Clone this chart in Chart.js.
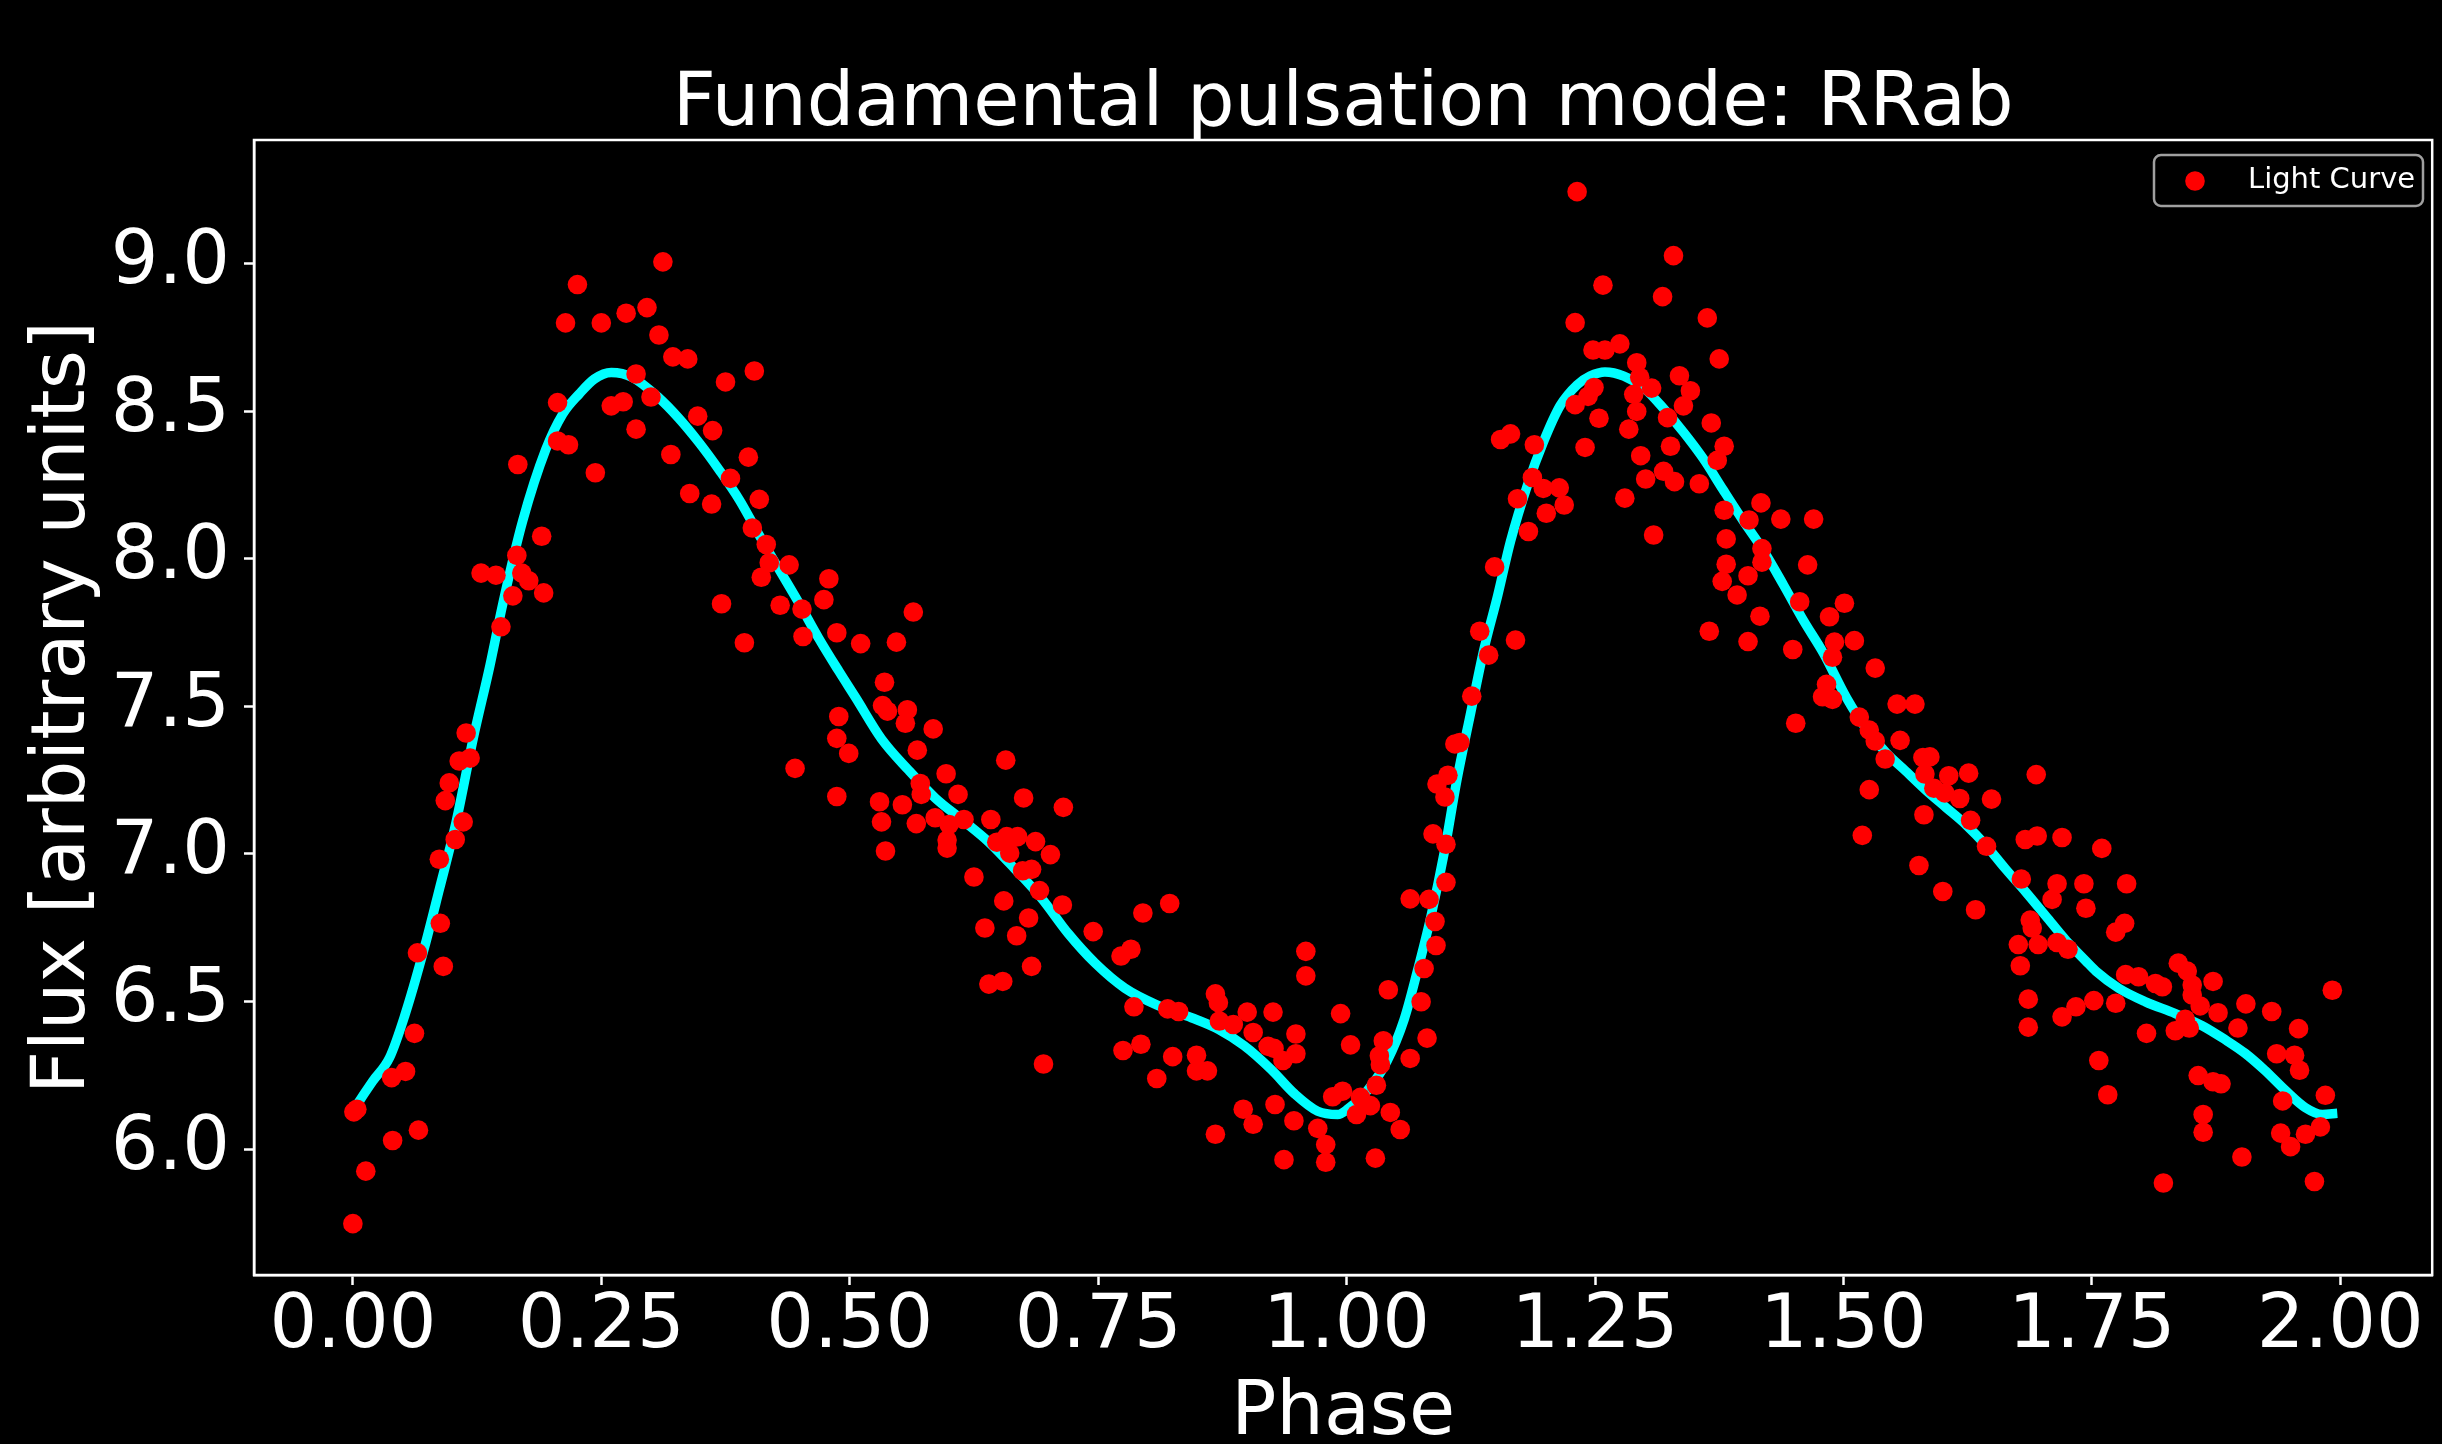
<!DOCTYPE html>
<html>
<head>
<meta charset="utf-8">
<script src="https://cdn.jsdelivr.net/npm/chart.js@4.4.1/dist/chart.umd.min.js"></script>
<style>
  html, body { margin: 0; padding: 0; background: #000; }
  canvas { display: block; }
</style>
</head>
<body>
<canvas id="lightCurve" width="2442" height="1444"></canvas>
<script>
const lcPhase = [
    0.000, 0.001, 0.004, 0.013, 0.039, 0.040, 0.053, 0.062, 0.065, 0.066, 0.087, 0.088, 0.091, 0.093, 0.097, 0.103, 0.107, 0.111, 0.114, 0.118,
    0.129, 0.144, 0.149, 0.161, 0.165, 0.166, 0.170, 0.177, 0.190, 0.192, 0.206, 0.206, 0.214, 0.217, 0.226,
    0.244, 0.250, 0.260, 0.272, 0.275, 0.285, 0.285, 0.296, 0.300, 0.308, 0.312, 0.320, 0.322, 0.337, 0.339, 0.347, 0.361, 0.362, 0.371, 0.375,
    0.380, 0.394, 0.398, 0.402, 0.404, 0.409, 0.411, 0.416, 0.419, 0.430, 0.439, 0.445, 0.452, 0.453, 0.474, 0.479, 0.487, 0.489, 0.487, 0.487,
    0.564, 0.511, 0.547, 0.535, 0.499, 0.533, 0.538, 0.558, 0.556, 0.584, 0.568, 0.597, 0.571, 0.572, 0.609, 0.530, 0.553, 0.532, 0.567, 0.586,
    0.600, 0.615, 0.536, 0.598, 0.598, 0.642, 0.657, 0.675, 0.715, 0.648, 0.658, 0.669, 0.661, 0.687, 0.702, 0.625, 0.674, 0.683, 0.691, 0.714,
    0.655, 0.680, 0.668, 0.636, 0.683, 0.640, 0.654, 0.695, 0.745,
    0.795, 0.822, 0.773, 0.783, 0.786, 0.820, 0.831, 0.775, 0.793, 0.825, 0.809, 0.849, 0.849, 0.860, 0.868, 0.871, 0.872, 0.886, 0.900, 0.906,
    0.926, 0.921, 0.927, 0.936, 0.949, 0.949, 0.959, 0.959, 0.896, 0.906, 0.868, 0.928, 0.947, 0.937, 0.971, 0.979, 0.979, 0.986, 0.994,
    0.996, 1.004, 1.042, 1.037, 1.033, 1.034, 1.030, 1.014, 1.024, 1.010, 1.044, 1.054, 1.029, 1.064, 1.075, 1.081, 1.078, 1.064, 1.083, 1.089,
    1.090, 1.100, 1.087, 1.100, 1.091, 1.099, 1.102, 1.109, 1.114, 1.126, 1.134, 1.143, 1.170, 1.149, 1.155, 1.165, 1.189, 1.172, 1.187, 1.198,
    1.214, 1.201, 1.219, 1.183, 1.230, 1.232, 1.230, 1.240,
    1.329, 1.258, 1.318, 1.363, 1.248, 1.260, 1.275, 1.292, 1.295, 1.289, 1.307, 1.335, 1.346, 1.375, 1.339, 1.292, 1.323, 1.367, 1.249, 1.243,
    1.254, 1.284, 1.326, 1.296, 1.380, 1.373, 1.319, 1.301, 1.330, 1.355, 1.280, 1.309, 1.380, 1.417, 1.405, 1.437, 1.470, 1.382, 1.418, 1.418,
    1.382, 1.378, 1.404, 1.464, 1.393, 1.456, 1.416, 1.486, 1.365, 1.404, 1.449, 1.491, 1.489, 1.483, 1.479, 1.489, 1.452,
    1.501, 1.511, 1.532, 1.554, 1.572, 1.516, 1.526, 1.532, 1.557, 1.542, 1.580, 1.587, 1.582, 1.606, 1.626, 1.591, 1.602, 1.617, 1.649, 1.694,
    1.526, 1.581, 1.628, 1.519, 1.644, 1.683, 1.695, 1.720, 1.576, 1.600, 1.633, 1.679, 1.715, 1.710, 1.742, 1.744, 1.688, 1.690, 1.676, 1.696,
    1.715, 1.726, 1.678, 1.686, 1.686, 1.720, 1.734,
    1.760, 1.785, 1.783, 1.774, 1.784, 1.797, 1.814, 1.821, 1.837, 1.846, 1.851, 1.851, 1.872, 1.859, 1.877, 1.905, 1.931, 1.752, 1.774, 1.805,
    1.834, 1.844, 1.848, 1.897, 1.958, 1.992, 1.936, 1.954, 1.959, 1.757, 1.766, 1.857, 1.872, 1.880, 1.862, 1.862, 1.942, 1.985, 1.940, 1.950,
    1.965, 1.980, 1.901, 1.822, 1.974
];
const lcFlux = [
    5.747, 6.126, 6.135, 5.925, 6.242, 6.029, 6.263, 6.392, 6.665, 6.064, 6.982, 6.765, 6.619, 7.181, 7.241, 7.049, 7.315, 7.109, 7.410, 7.325,
    7.952, 7.945, 7.770, 7.875, 8.012, 8.320, 7.952, 7.926, 8.077, 7.885, 8.530, 8.400, 8.800, 8.387, 8.930,
    8.292, 8.800, 8.519, 8.533, 8.833, 8.627, 8.440, 8.852, 8.549, 8.759, 9.007, 8.354, 8.685, 8.678, 8.222, 8.484, 8.186, 8.435, 7.848, 8.600,
    8.273, 7.716, 8.345, 8.105, 8.637, 8.202, 7.938, 8.049, 7.987, 7.843, 7.980, 7.290, 7.830, 7.737, 7.862, 7.933, 7.750, 7.466, 7.392, 7.195,
    7.820, 7.713, 7.718, 7.582, 7.341, 7.503, 7.484, 7.489, 7.443, 7.424, 7.352, 7.272, 7.239, 7.202, 7.202, 7.177, 7.167, 7.109, 7.103, 7.123,
    7.100, 7.117, 7.010, 7.047, 7.020, 7.117, 7.318, 7.190, 7.158, 7.040, 7.059, 7.059, 7.003, 7.042, 6.998, 6.922, 6.943, 6.948, 6.876, 6.827,
    6.841, 6.783, 6.723, 6.749, 6.619, 6.559, 6.568, 6.288, 6.737,
    6.800, 6.832, 6.654, 6.677, 6.482, 6.475, 6.466, 6.334, 6.355, 6.313, 6.239, 6.318, 6.265, 6.265, 6.526, 6.496, 6.434, 6.422, 6.464, 6.395,
    6.464, 6.348, 6.341, 6.300, 6.390, 6.323, 6.670, 6.587, 6.135, 6.084, 6.050, 6.151, 6.096, 5.964, 6.070, 6.015, 5.955, 6.177, 6.459,
    6.196, 6.353, 6.540, 6.367, 6.316, 6.286, 6.216, 6.175, 6.147, 6.117, 6.124, 6.066, 5.969, 6.307, 6.499, 6.376, 6.612, 6.848, 6.846, 6.771,
    6.690, 6.904, 7.068, 7.033, 7.237, 7.193, 7.267, 7.373, 7.378, 7.535, 7.755, 7.674, 7.725, 7.973, 8.405, 8.424, 8.387, 8.204, 8.276, 8.239,
    8.241, 8.155, 8.183, 8.093, 8.801, 9.245, 8.523, 8.378,
    9.028, 8.928, 8.889, 8.817, 8.708, 8.708, 8.729, 8.665, 8.616, 8.558, 8.579, 8.621, 8.570, 8.678, 8.519, 8.500, 8.479, 8.461, 8.581, 8.551,
    8.477, 8.440, 8.382, 8.350, 8.382, 8.334, 8.297, 8.271, 8.262, 8.255, 8.206, 8.081, 8.165, 8.190, 8.132, 8.135, 8.135, 8.068, 8.035, 7.989,
    7.982, 7.924, 7.943, 7.980, 7.878, 7.855, 7.806, 7.804, 7.755, 7.720, 7.693, 7.718, 7.667, 7.575, 7.533, 7.524, 7.443,
    7.850, 7.723, 7.630, 7.508, 7.508, 7.464, 7.420, 7.383, 7.385, 7.322, 7.327, 7.329, 7.271, 7.265, 7.274, 7.223, 7.207, 7.188, 7.186, 7.269,
    7.218, 7.133, 7.114, 7.063, 7.026, 7.049, 7.061, 7.056, 6.961, 6.873, 6.811, 6.915, 6.899, 6.846, 6.899, 6.816, 6.776, 6.749, 6.693, 6.693,
    6.700, 6.677, 6.621, 6.508, 6.413, 6.448, 6.482,
    7.019, 6.899, 6.765, 6.735, 6.591, 6.584, 6.561, 6.550, 6.630, 6.603, 6.556, 6.522, 6.568, 6.485, 6.462, 6.492, 6.466, 6.503, 6.494, 6.392,
    6.401, 6.440, 6.410, 6.410, 6.408, 6.538, 6.323, 6.318, 6.267, 6.300, 6.184, 6.249, 6.228, 6.221, 6.117, 6.057, 6.163, 6.182, 6.054, 6.008,
    6.050, 6.075, 5.973, 5.885, 5.890
];

// fitted curve
const fitPhase = [
    0.000, 0.020, 0.037, 0.052, 0.071, 0.087, 0.104, 0.121, 0.138, 0.151, 0.171, 0.194, 0.211, 0.228, 0.243, 0.260, 0.281, 0.308, 0.328, 0.348,
    0.369, 0.389, 0.409, 0.428, 0.449, 0.469, 0.489, 0.506, 0.532, 0.559, 0.586, 0.613, 0.640, 0.666, 0.693, 0.720, 0.747, 0.777, 0.810, 0.844,
    0.871, 0.897, 0.924, 0.948, 0.971, 0.991, 1.001, 1.021, 1.041, 1.058, 1.071, 1.085, 1.098, 1.111, 1.125, 1.138, 1.152, 1.165, 1.182, 1.198,
    1.215, 1.232, 1.245, 1.260, 1.279, 1.299, 1.319, 1.339, 1.359, 1.379, 1.399, 1.420, 1.440, 1.460, 1.480, 1.503, 1.523, 1.543, 1.563, 1.583,
    1.603, 1.623, 1.643, 1.663, 1.684, 1.704, 1.724, 1.744, 1.754, 1.777, 1.804, 1.834, 1.861, 1.884, 1.904, 1.924, 1.945, 1.965, 1.982, 1.997
];
const fitFlux = [
    6.13, 6.23, 6.31, 6.45, 6.67, 6.88, 7.11, 7.39, 7.64, 7.85, 8.13, 8.37, 8.49, 8.56, 8.61, 8.632, 8.616, 8.546, 8.477, 8.396,
    8.30, 8.20, 8.08, 7.97, 7.85, 7.73, 7.62, 7.53, 7.39, 7.285, 7.19, 7.116, 7.04, 6.95, 6.85, 6.73, 6.63, 6.545, 6.487, 6.445,
    6.406, 6.35, 6.27, 6.186, 6.128, 6.117, 6.135, 6.198, 6.30, 6.44, 6.60, 6.79, 7.00, 7.25, 7.48, 7.69, 7.875, 8.06, 8.25, 8.396,
    8.52, 8.59, 8.62, 8.634, 8.62, 8.58, 8.51, 8.43, 8.34, 8.234, 8.13, 8.026, 7.91, 7.79, 7.68, 7.53, 7.424, 7.343, 7.28, 7.216,
    7.158, 7.10, 7.031, 6.95, 6.869, 6.788, 6.707, 6.637, 6.603, 6.545, 6.499, 6.459, 6.418, 6.371, 6.325, 6.267, 6.198, 6.14, 6.117, 6.121
];

const xTicks = [0.00, 0.25, 0.50, 0.75, 1.00, 1.25, 1.50, 1.75, 2.00];
const yTicks = [6.0, 6.5, 7.0, 7.5, 8.0, 8.5, 9.0];

const FONT = "'DejaVu Sans', 'Liberation Sans', sans-serif";
const X_MIN = -0.0995, X_MAX = 2.0925;

// black page + frame round the plot area
const blackBackground = {
    id: 'blackBackground',
    beforeDraw(chart) {
        const ctx = chart.ctx;
        ctx.save();
        ctx.fillStyle = '#000';
        ctx.fillRect(0, 0, chart.width, chart.height);
        ctx.restore();
    }
};

const frameAndLegend = {
    id: 'frameAndLegend',
    afterDraw(chart) {
        const ctx = chart.ctx;
        const a = chart.chartArea;
        ctx.save();
        ctx.strokeStyle = '#fff';
        ctx.lineWidth = 2.5;
        ctx.strokeRect(a.left, a.top, a.right - a.left, a.bottom - a.top);

        // legend box, top right inside the axes
        const ds = chart.data.datasets[0];
        const bx = 2154, by = 155, bw = 269, bh = 51;
        ctx.fillStyle = '#000';
        ctx.strokeStyle = '#a0a0a0';
        ctx.lineWidth = 2.5;
        ctx.beginPath();
        ctx.roundRect(bx, by, bw, bh, 7);
        ctx.fill();
        ctx.stroke();

        ctx.fillStyle = ds.backgroundColor;
        ctx.beginPath();
        ctx.arc(2195, 181, 9.8, 0, Math.PI * 2);
        ctx.fill();

        ctx.fillStyle = '#fff';
        ctx.font = '29px ' + FONT;
        ctx.textBaseline = 'middle';
        ctx.textAlign = 'left';
        ctx.fillText(ds.label, 2248, 180);
        ctx.restore();
    }
};

const ctx = document.getElementById('lightCurve').getContext('2d');

new Chart(ctx, {
    type: 'scatter',
    data: {
        datasets: [
            {
                label: 'Light Curve',
                data: lcPhase.map((p, i) => ({ x: p, y: lcFlux[i] })),
                backgroundColor: '#ff0000',
                borderWidth: 0,
                pointRadius: 9.8,
                order: 0
            },
            {
                label: 'fit',
                data: fitPhase.map((p, i) => ({ x: p, y: fitFlux[i] })),
                showLine: true,
                borderColor: '#00ffff',
                borderWidth: 9.5,
                pointRadius: 0,
                cubicInterpolationMode: 'monotone',
                order: 1
            }
        ]
    },
    options: {
        responsive: false,
        animation: false,
        devicePixelRatio: 1,
        layout: { padding: { left: 0, right: 5, top: 0, bottom: 0 } },
        plugins: {
            legend: { display: false },
            tooltip: { enabled: false }
        },
        scales: {
            x: {
                type: 'linear',
                min: X_MIN,
                max: X_MAX,
                afterBuildTicks: s => { s.ticks = xTicks.map(v => ({ value: v })); },
                afterFit: s => { s.height = 169; },
                ticks: {
                    color: '#fff',
                    padding: 5,
                    maxRotation: 0,
                    font: { family: FONT, size: 75, lineHeight: 1 },
                    callback: v => Number(v).toFixed(2)
                },
                grid: { drawOnChartArea: false, drawTicks: true, tickLength: 10, tickWidth: 2.5, tickColor: '#fff' },
                border: { display: true, color: '#fff', width: 2.5 },
                title: {
                    display: true,
                    text: 'Phase',
                    color: '#fff',
                    font: { family: FONT, size: 75, lineHeight: 0.75 },
                    padding: { top: 0, bottom: 1 }
                }
            },
            // top axis only carries the title, so it centres over the plot area
            xTop: {
                type: 'linear',
                position: 'top',
                min: X_MIN,
                max: X_MAX,
                afterFit: s => { s.height = 140; },
                ticks: { display: false },
                grid: { display: false, drawTicks: false },
                border: { display: false },
                title: {
                    display: true,
                    text: 'Fundamental pulsation mode: RRab',
                    color: '#fff',
                    font: { family: FONT, size: 75, lineHeight: 1 },
                    padding: { top: 68, bottom: 0 }
                }
            },
            y: {
                type: 'linear',
                min: 5.573,
                max: 9.420,
                afterBuildTicks: s => { s.ticks = yTicks.map(v => ({ value: v })); },
                afterFit: s => { s.width = 254; },
                ticks: {
                    color: '#fff',
                    padding: 14,
                    font: { family: FONT, size: 75, lineHeight: 1 },
                    callback: v => Number(v).toFixed(1)
                },
                grid: { drawOnChartArea: false, drawTicks: true, tickLength: 10, tickWidth: 2.5, tickColor: '#fff' },
                border: { display: true, color: '#fff', width: 2.5 },
                title: {
                    display: true,
                    text: 'Flux [arbitrary units]',
                    color: '#fff',
                    font: { family: FONT, size: 75, lineHeight: 1 },
                    padding: { top: 27.5, bottom: 0 }
                }
            }
        }
    },
    plugins: [blackBackground, frameAndLegend]
});
</script>
</body>
</html>
